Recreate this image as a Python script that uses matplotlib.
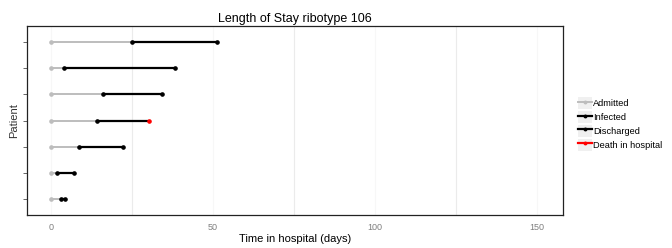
import matplotlib.pyplot as plt
from matplotlib.lines import Line2D
from matplotlib.patches import Patch
from matplotlib.legend_handler import HandlerTuple
import numpy as np

plt.rcParams['font.family'] = ['Liberation Sans', 'DejaVu Sans']

# patients listed bottom to top
patients = [1, 2, 3, 4, 5, 6, 7]
admitted = [0, 0, 0, 0, 0, 0, 0]
infected = [3.0, 2.0, 8.8, 14.1, 16.2, 4.1, 25.1]
outcome_day = [4.2, 7.1, 22.2, 30.2, 34.3, 38.3, 51.1]
died = [False, False, False, True, False, False, False]

grey = '#bdbdbd'

fig = plt.figure(figsize=(6.72, 2.48), dpi=100)
ax = fig.add_axes([27 / 672, 1 - 215 / 248, 536 / 672, 189 / 248])

# vertical grid lines
for gx in [0, 50, 100, 150]:
    ax.axvline(gx, color='#f7f7f7', lw=0.8, zorder=0)
for gx in [25, 75, 125]:
    ax.axvline(gx, color='#ebebeb', lw=0.8, zorder=0)

for p, a, i, o, d in zip(patients, admitted, infected, outcome_day, died):
    ax.plot([a, i], [p, p], color=grey, lw=1.4, solid_capstyle='butt', zorder=2)
    ax.plot([i, o], [p, p], color='black', lw=1.6, solid_capstyle='butt', zorder=3)
    ax.plot(a, p, 'o', color=grey, ms=2.3, zorder=4)
    ax.plot(i, p, 'o', color='black', ms=2.3, zorder=4)
    ax.plot(o, p, 'o', color='red' if d else 'black', ms=2.3, zorder=5)

ax.set_xlim(-7.4, 158)
ax.set_ylim(0.4, 7.6)
ax.set_xticks([0, 50, 100, 150])
ax.set_yticks(patients)
ax.set_yticklabels([])
ax.tick_params(axis='x', length=0, labelsize=6.5, labelcolor='#7f7f7f', pad=6)
ax.tick_params(axis='y', length=3, color='#4d4d4d', width=0.6)
for s in ax.spines.values():
    s.set_linewidth(0.9)
    s.set_color('#222222')

ax.set_title('Length of Stay ribotype 106', fontsize=9, pad=3)
ax.set_xlabel('Time in hospital (days)', fontsize=8, labelpad=1)
ax.set_ylabel('Patient', fontsize=8, color='#333333')
ax.yaxis.set_label_coords(-0.015, 0.5)

key_bg = Patch(facecolor='#f0f0f0', edgecolor='none')
handles = [
    (key_bg, Line2D([], [], color=grey, lw=1.4, marker='o', ms=1.8)),
    (key_bg, Line2D([], [], color='black', lw=1.6, marker='o', ms=1.8)),
    (key_bg, Line2D([], [], color='black', lw=1.6, marker='o', ms=1.8)),
    (key_bg, Line2D([], [], color='red', lw=1.6, marker='o', ms=1.8)),
]
labels = ['Admitted', 'Infected', 'Discharged', 'Death in hospital']
fig.legend(handles, labels, loc='center left', bbox_to_anchor=(573 / 672, 1 - 124 / 248),
           frameon=False, fontsize=6.7, handlelength=1.5, handleheight=1.6,
           handletextpad=0.15, labelspacing=0.2, borderpad=0,
           handler_map={tuple: HandlerTuple(ndivide=1, pad=0)})

fig.savefig('out.png', dpi=100)
